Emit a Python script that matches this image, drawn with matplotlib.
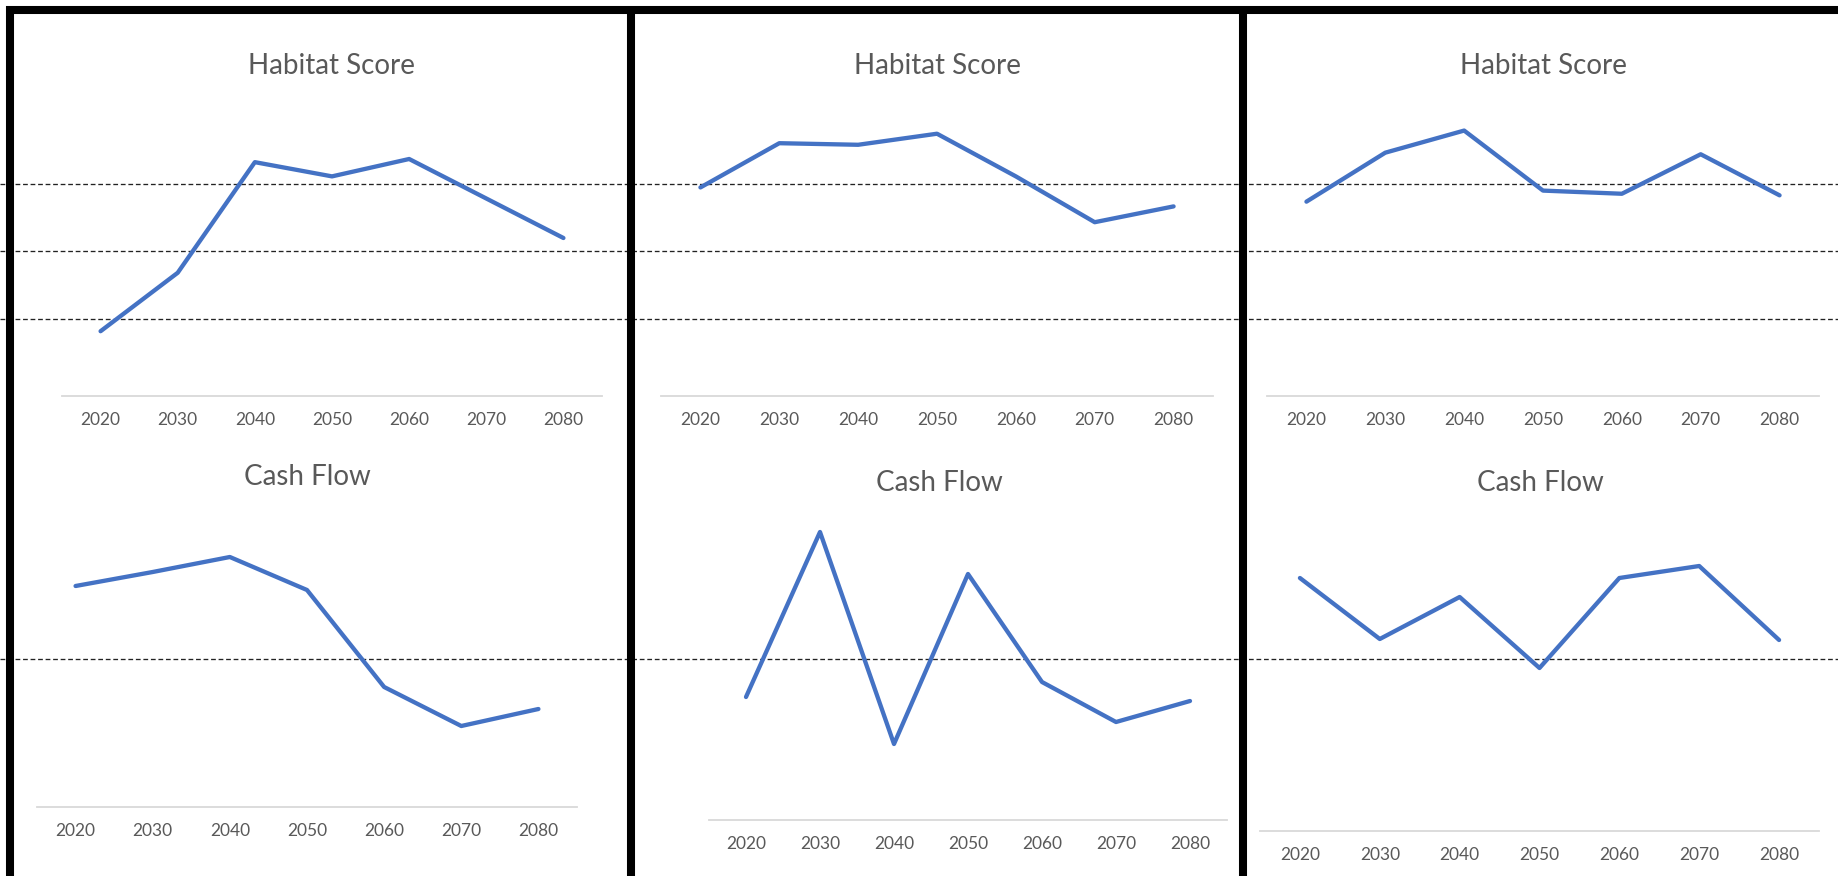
import matplotlib
matplotlib.use("Agg")
import matplotlib.pyplot as plt
from matplotlib.lines import Line2D
from matplotlib.transforms import blended_transform_factory

plt.rcParams['font.family'] = ['Lato', 'DejaVu Sans']

#### Data #####

years = [2020, 2030, 2040, 2050, 2060, 2070, 2080]

habitat_1 = [20.5, 39, 74, 69.5, 75, 62.5, 50]
habitat_2 = [66, 80, 79.5, 83, 69.5, 55, 60]
habitat_3 = [61.5, 77, 84, 65, 64, 76.5, 63.5]
habitat_thresholds = [24.5, 46, 67]

cash_1 = [36.5, 43.5, 51, 34.5, -14, -33.5, -25]
cash_2 = [-19, 63.5, -42.5, 42.5, -11.5, -31.5, -21]
cash_3 = [40.5, 10, 31, -4.5, 40.5, 46.5, 9.5]
cash_threshold = 0

#### Layout (pixels) #####

W, H = 1838, 876
BLUE = '#4472C4'
GREY_TEXT = '#595959'
AXIS_GREY = '#d9d9d9'

fig = plt.figure(figsize=(W / 100, H / 100), dpi=100)
fig.patch.set_facecolor('white')


def px_axes(left, right, bottom, top):
    ax = fig.add_axes([left / W, 1 - bottom / H, (right - left) / W, (bottom - top) / H])
    ax.set_facecolor('none')
    return ax


def style(ax, values, ylim):
    ax.plot(years, values, color=BLUE, lw=3.1, solid_capstyle='round',
            solid_joinstyle='round', zorder=3)
    ax.set_xlim(2015, 2085)
    ax.set_ylim(*ylim)
    ax.set_xticks(years)
    ax.set_xticklabels([str(y) for y in years])
    ax.set_yticks([])
    for s in ['top', 'left', 'right']:
        ax.spines[s].set_visible(False)
    ax.spines['bottom'].set_color(AXIS_GREY)
    ax.spines['bottom'].set_linewidth(1.3)
    ax.tick_params(axis='x', length=0, pad=11.5, labelsize=12.5, labelcolor=GREY_TEXT)


def dashed_across(ax, y):
    tr = blended_transform_factory(fig.transFigure, ax.transData)
    ax.plot([0, 1], [y, y], transform=tr, clip_on=False, color='#222222',
            lw=0.95, linestyle=(0, (3.6, 2.1)), zorder=1)


# habitat row: same scale for all three
hab_boxes = [(62, 602), (661, 1213), (1267, 1819)]
hab_axes = []
for (l, r), vals in zip(hab_boxes, [habitat_1, habitat_2, habitat_3]):
    ax = px_axes(l, r, 396, 80)
    style(ax, vals, (0, 100))
    hab_axes.append(ax)
    fig.text((l + r) / 2 / W, 1 - 66 / H, 'Habitat Score', ha='center', va='center',
             fontsize=20, color=GREY_TEXT)

for t in habitat_thresholds:
    dashed_across(hab_axes[0], t)

# cash flow row: 2 px per unit, zero at y=659
cash_boxes = [(37, 577, 807), (709, 1227, 820), (1260, 1819, 831)]
cash_titles = [(307, 477), (939, 483), (1540, 483)]
cash_axes = []
for (l, r, b), vals, (tx, ty) in zip(cash_boxes, [cash_1, cash_2, cash_3], cash_titles):
    top = 95
    low = -(b - 659) / 2
    ax = px_axes(l, r, b, 659 - top * 2)
    style(ax, vals, (low, top))
    cash_axes.append(ax)
    fig.text(tx / W, 1 - ty / H, 'Cash Flow', ha='center', va='center',
             fontsize=20, color=GREY_TEXT)

dashed_across(cash_axes[0], cash_threshold)

#### Panel borders #####

def border(x0, y0, x1, y1):
    fig.add_artist(Line2D([x0 / W, x1 / W], [1 - y0 / H, 1 - y1 / H],
                          transform=fig.transFigure, color='black', lw=5.8,
                          solid_capstyle='butt', zorder=10))


border(6, 9.5, W, 9.5)
border(10, 6, 10, H)
border(631, 6, 631, H)
border(1243, 6, 1243, H)

plt.savefig('out.png', dpi=100)
